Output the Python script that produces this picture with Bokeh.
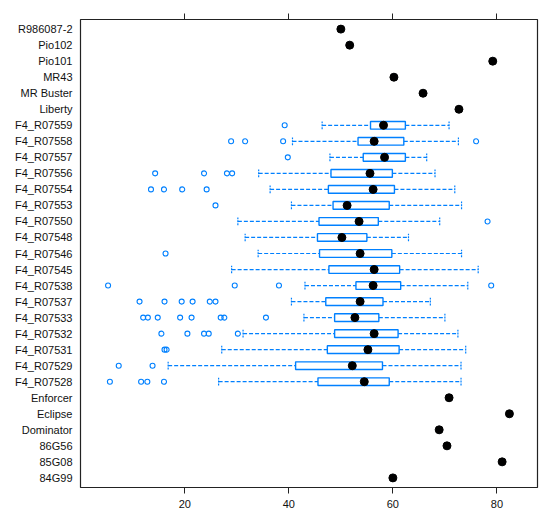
from bokeh.plotting import figure
from bokeh.models import Range1d, FixedTicker, LinearAxis
from bokeh.embed import file_html
from bokeh.resources import INLINE

# categories from bottom to top
categories = ["84G99", "85G08", "86G56", "Dominator", "Eclipse", "Enforcer",
              "F4_R07528", "F4_R07529", "F4_R07531", "F4_R07532", "F4_R07533",
              "F4_R07537", "F4_R07538", "F4_R07545", "F4_R07546", "F4_R07548",
              "F4_R07550", "F4_R07553", "F4_R07554", "F4_R07556", "F4_R07557",
              "F4_R07558", "F4_R07559", "Liberty", "MR Buster", "MR43",
              "Pio101", "Pio102", "R986087-2"]

# F4 lines: box-and-whisker statistics
line_names = ["F4_R07528", "F4_R07529", "F4_R07531", "F4_R07532", "F4_R07533",
              "F4_R07537", "F4_R07538", "F4_R07545", "F4_R07546", "F4_R07548",
              "F4_R07550", "F4_R07553", "F4_R07554", "F4_R07556", "F4_R07557",
              "F4_R07558", "F4_R07559"]
whisker_low = [26.5, 16.8, 27.1, 31.2, 42.9, 40.5, 43.1, 29.0, 34.1, 31.6,
               30.2, 40.5, 36.4, 34.2, 47.9, 40.7, 46.4]
q1 = [45.6, 41.3, 47.4, 48.8, 48.8, 47.1, 52.9, 47.7, 45.9, 45.5,
      45.8, 48.5, 47.6, 48.1, 54.3, 53.3, 55.7]
median = [54.5, 52.2, 55.2, 56.4, 52.7, 53.7, 56.2, 56.4, 53.7, 50.2,
          53.5, 51.2, 56.2, 55.6, 58.4, 56.4, 58.2]
q3 = [59.3, 58.0, 61.2, 61.0, 57.3, 58.1, 61.5, 61.3, 59.8, 55.0,
      57.2, 59.3, 60.3, 59.9, 62.4, 62.1, 62.4]
whisker_high = [73.1, 73.1, 74.0, 72.5, 70.0, 67.2, 74.4, 76.4, 73.2, 63.0,
                69.0, 73.2, 71.9, 68.1, 66.5, 72.6, 70.8]

# outliers
outlier_names = (["F4_R07528"] * 4 + ["F4_R07529"] * 2 + ["F4_R07531"] * 2 +
                 ["F4_R07532"] * 5 + ["F4_R07533"] * 8 + ["F4_R07537"] * 6 +
                 ["F4_R07538"] * 4 + ["F4_R07546"] + ["F4_R07550"] +
                 ["F4_R07553"] + ["F4_R07554"] * 4 + ["F4_R07556"] * 4 +
                 ["F4_R07557"] + ["F4_R07558"] * 4 + ["F4_R07559"])
outlier_values = [5.6, 11.6, 12.8, 16.0,
                  7.3, 13.8,
                  16.1, 16.5,
                  15.5, 20.5, 23.7, 24.6, 30.2,
                  12.0, 12.9, 14.8, 19.1, 21.3, 26.9, 27.6, 35.6,
                  11.3, 16.1, 19.4, 21.5, 24.8, 25.9,
                  5.25, 29.6, 38.1, 78.9,
                  16.3,
                  78.2,
                  25.9,
                  13.5, 16.0, 19.5, 24.2,
                  14.3, 23.7, 28.1, 29.1,
                  39.8,
                  28.9, 31.6, 38.9, 76.0,
                  39.2]

# check varieties: single values
check_names = ["84G99", "85G08", "86G56", "Dominator", "Eclipse", "Enforcer",
               "Liberty", "MR Buster", "MR43", "Pio101", "Pio102", "R986087-2"]
check_values = [60.0, 81.0, 70.4, 68.9, 82.4, 70.8, 72.7, 65.8, 60.2, 79.2, 51.7, 50.0]

x_ticks = [20, 40, 60, 80]

BLUE = "#0080ff"
FONT = "Liberation Sans"

pos = {c: i + 1 for i, c in enumerate(categories)}
ly = [pos[c] for c in line_names]
oy = [pos[c] for c in outlier_names]
cy = [pos[c] for c in check_names]
half = 0.24

p = figure(width=543, height=514, output_backend="svg", toolbar_location=None,
           x_range=Range1d(-0.05, 87.8), y_range=Range1d(0.4, 29.6),
           min_border_left=80, min_border_right=6, min_border_top=19,
           min_border_bottom=27, y_axis_type=None, x_axis_type=None)
p.grid.visible = False
p.outline_line_color = "#222222"
p.outline_line_width = 1.2
p.background_fill_color = "white"
p.border_fill_color = "white"

# whiskers
p.segment(x0=whisker_low, y0=ly, x1=q1, y1=ly, line_color=BLUE, line_width=1.2, line_dash="4 2")
p.segment(x0=q3, y0=ly, x1=whisker_high, y1=ly, line_color=BLUE, line_width=1.2, line_dash="4 2")
p.segment(x0=whisker_low, y0=[y - half for y in ly], x1=whisker_low, y1=[y + half for y in ly],
          line_color=BLUE, line_width=1.2, line_dash="2 1")
p.segment(x0=whisker_high, y0=[y - half for y in ly], x1=whisker_high, y1=[y + half for y in ly],
          line_color=BLUE, line_width=1.2, line_dash="2 1")
# boxes
p.hbar(y=ly, left=q1, right=q3, height=2 * half, fill_color="white",
       line_color=BLUE, line_width=1.4)
# zero-width boxes of the checks
p.segment(x0=check_values, y0=[y - half for y in cy], x1=check_values, y1=[y + half for y in cy],
          line_color=BLUE, line_width=1.4)
# outliers
p.scatter(x=outlier_values, y=oy, marker="circle", size=5, line_color=BLUE,
          fill_color=None, line_width=1.1)
# medians
p.scatter(x=median, y=ly, marker="circle", size=8, color="black")
p.scatter(x=check_values, y=cy, marker="circle", size=8, color="black")

# axes
bottom = LinearAxis(ticker=FixedTicker(ticks=x_ticks))
bottom.axis_line_color = None
bottom.major_tick_out = 6
bottom.major_tick_in = 0
bottom.minor_tick_line_color = None
bottom.major_tick_line_color = "#222222"
bottom.major_label_standoff = 6
bottom.major_label_text_font = FONT
bottom.major_label_text_font_size = "11px"
bottom.major_label_text_color = "#111111"
p.add_layout(bottom, "below")

top = LinearAxis(ticker=FixedTicker(ticks=x_ticks),
                 major_label_overrides={t: "" for t in x_ticks})
top.axis_line_color = None
top.major_tick_out = 6
top.major_tick_in = 0
top.minor_tick_line_color = None
top.major_tick_line_color = "#222222"
top.major_label_standoff = 0
top.major_label_text_font_size = "1px"
p.add_layout(top, "above")

left = LinearAxis(ticker=FixedTicker(ticks=list(range(1, len(categories) + 1))),
                  major_label_overrides={i + 1: c for i, c in enumerate(categories)})
left.axis_line_color = None
left.major_tick_out = 0
left.major_tick_in = 0
left.minor_tick_line_color = None
left.major_tick_line_color = None
left.major_label_standoff = 8
left.major_label_text_font = FONT
left.major_label_text_font_size = "11px"
left.major_label_text_color = "#111111"
p.add_layout(left, "left")

open("out.html", "w").write(file_html(p, INLINE))
